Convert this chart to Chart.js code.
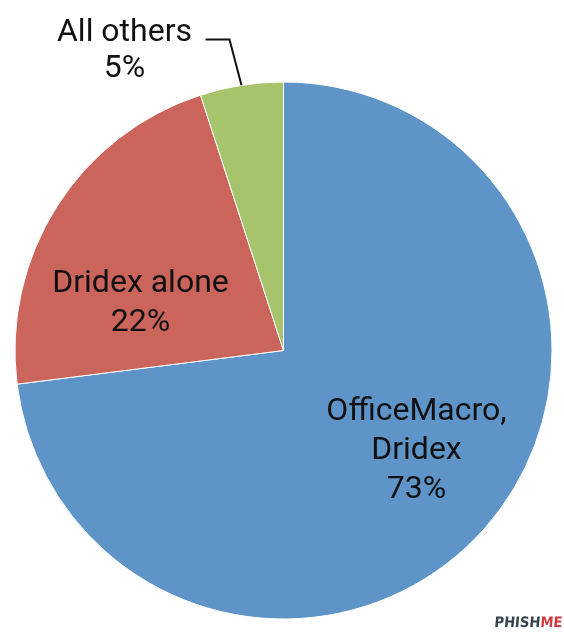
<!DOCTYPE html>
<html>
<head>
<meta charset="utf-8">
<script src="https://cdn.jsdelivr.net/npm/chart.js@4/dist/chart.umd.min.js"></script>
<style>
  html, body { margin: 0; padding: 0; background: #ffffff; }
  #wrap { width: 564px; height: 633px; position: relative; }
</style>
</head>
<body>
<div id="wrap"><canvas id="c" width="564" height="633"></canvas></div>
<script>
const categories = ["OfficeMacro, Dridex", "Dridex alone", "All others"];
const labelLines = [["OfficeMacro,", "Dridex", "73%"], ["Dridex alone", "22%"], ["All others", "5%"]];
const values = [73, 22, 5];
const colors = ["#5f94c8", "#cb645b", "#a6c46b"];

const labelPlugin = {
  id: 'sliceLabels',
  afterDatasetsDraw(chart) {
    const ctx = chart.ctx;
    const arcs = chart.getDatasetMeta(0).data;
    ctx.save();
    ctx.font = '32px Roboto';
    ctx.fillStyle = '#111111';
    ctx.textAlign = 'center';
    ctx.textBaseline = 'middle';
    const lh = 39;
    // inside labels: [index, radial fraction, angle offset (rad)]
    const inside = [[0, 0.62, -0.077], [1, 0.56, -0.251]];
    inside.forEach(([i, f, da]) => {
      const a = arcs[i];
      const mid = (a.startAngle + a.endAngle) / 2 + da;
      const r = a.outerRadius * f;
      const x = a.x + Math.cos(mid) * r;
      const y = a.y + Math.sin(mid) * r;
      const lines = labelLines[i];
      const y0 = y - (lines.length - 1) * lh / 2;
      lines.forEach((t, k) => ctx.fillText(t, x, y0 + k * lh));
    });
    // outside label with leader line for the small slice
    const a = arcs[2];
    const mid = (a.startAngle + a.endAngle) / 2;
    const ex = a.x + Math.cos(mid) * a.outerRadius;
    const ey = a.y + Math.sin(mid) * a.outerRadius;
    const ky = a.y - a.outerRadius * 1.158;
    const kx = ex - 12;
    ctx.strokeStyle = '#111111';
    ctx.lineWidth = 2;
    ctx.beginPath();
    ctx.moveTo(kx - 24, ky);
    ctx.lineTo(kx, ky);
    ctx.lineTo(ex, ey);
    ctx.stroke();
    const tx = kx - 105;
    ctx.fillText(labelLines[2][0], tx, ky - 7);
    ctx.fillText(labelLines[2][1], tx, ky - 7 + 36);
    // PhishMe mark
    ctx.font = 'bold 16px "DejaVu Sans", sans-serif';
    ctx.textAlign = 'left';
    ctx.textBaseline = 'alphabetic';
    const w1 = ctx.measureText('PHISH').width;
    const w2 = ctx.measureText('ME').width;
    const sx = 68 / (w1 + w2);
    ctx.translate(494, 627);
    ctx.scale(sx, 0.9);
    ctx.transform(1, 0, -0.1, 1, 0, 0);
    ctx.fillStyle = '#36434d';
    ctx.fillText('PHISH', 0, 0);
    ctx.fillStyle = '#d23a3a';
    ctx.fillText('ME', w1, 0);
    ctx.restore();
  }
};

new Chart(document.getElementById('c'), {
  type: 'pie',
  data: {
    labels: categories,
    datasets: [{
      data: values,
      backgroundColor: colors,
      borderColor: '#ffffff',
      borderWidth: 1
    }]
  },
  options: {
    responsive: false,
    animation: false,
    layout: { padding: { left: 14.5, top: 81.5, right: 11.5, bottom: 13.5 } },
    plugins: {
      legend: { display: false },
      tooltip: { enabled: false }
    }
  },
  plugins: [labelPlugin]
});
</script>
</body>
</html>
